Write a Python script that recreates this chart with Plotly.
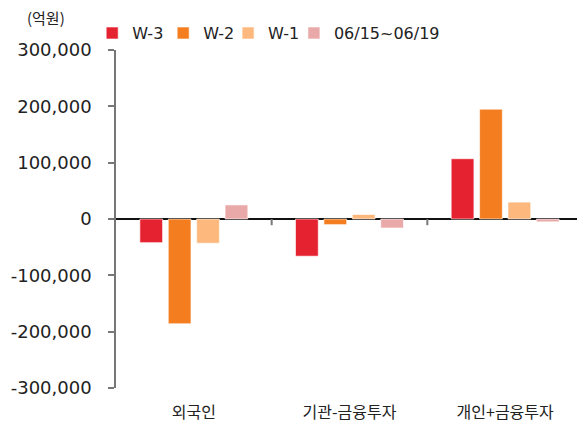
import plotly.graph_objects as go

categories = ["외국인", "기관-금융투자", "개인+금융투자"]
series_names = ["W-3", "W-2", "W-1", "06/15~06/19"]
w3 = [-42000, -66000, 107000]
w2 = [-186000, -10000, 195000]
w1 = [-43000, 8000, 30000]
recent = [25000, -16000, -5000]
colors = ["#E52230", "#F47D20", "#FDB97D", "#EAA9A9"]
y_ticks = [300000, 200000, 100000, 0, -100000, -200000, -300000]
y_tick_labels = ["{:,}".format(v) for v in y_ticks]

legend_ids = ["legend", "legend2", "legend3", "legend4"]
legend_x = [-0.051, 0.101, 0.240, 0.381]

fig = go.Figure()
for name, vals, col, lid in zip(series_names, [w3, w2, w1, recent], colors, legend_ids):
    fig.add_trace(go.Bar(
        x=categories, y=vals, name=name, legend=lid,
        marker=dict(color=col, line=dict(color="rgba(255,255,255,0.6)", width=1)),
    ))

# category boundary ticks on the zero line
for b in [0.5, 1.5]:
    fig.add_shape(type="line", xref="x", yref="y", x0=b, x1=b, y0=0, y1=-11000,
                  line=dict(color="#777777", width=2))

fig.add_annotation(text="(억원)", xref="paper", yref="paper", x=-0.15, y=1.095,
                   xanchor="center", yanchor="middle", showarrow=False,
                   font=dict(size=15, color="#222222", family="Noto Sans CJK KR"))

legend_common = dict(orientation="h", y=1.05, xanchor="left", yanchor="middle",
                     font=dict(size=16), itemwidth=30, bgcolor="rgba(0,0,0,0)")

fig.update_layout(
    width=577, height=417,
    margin=dict(l=108, r=2, t=42, b=37),
    paper_bgcolor="white", plot_bgcolor="white",
    barmode="group", bargap=0.27, bargroupgap=0.2,
    font=dict(family="DejaVu Sans, Noto Sans CJK KR", color="#222222", size=16),
    showlegend=True,
    xaxis=dict(showline=False, ticks="", showgrid=False,
               tickfont=dict(size=16, family="Noto Sans CJK KR"),
               ticklabelstandoff=13),
    yaxis=dict(range=[-300000, 300000], tickvals=y_ticks, ticktext=y_tick_labels,
               showgrid=False, showline=True, linecolor="#777777", linewidth=1.5,
               ticks="outside", ticklen=6, tickcolor="#777777", tickwidth=1.5,
               zeroline=True, zerolinecolor="#111111", zerolinewidth=1.5,
               tickfont=dict(size=18), ticklabelstandoff=13),
)
for lid, lx in zip(legend_ids, legend_x):
    fig.update_layout({lid: dict(x=lx, **legend_common)})

fig.write_html("out.html")
